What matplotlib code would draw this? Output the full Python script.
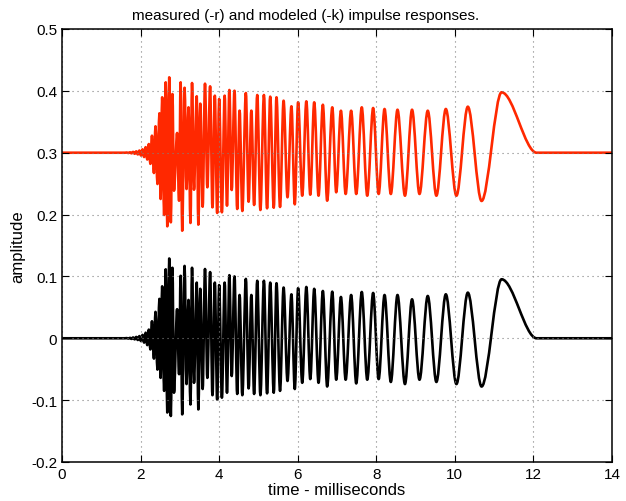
import numpy as np
import matplotlib
matplotlib.use("Agg")
import matplotlib.pyplot as plt
from matplotlib.path import Path
from matplotlib.patches import PathPatch

plt.rcParams['font.family'] = ['Liberation Sans', 'DejaVu Sans']

# times of the turning points (ms)
t_ext = [0.00, 1.60,
         1.65, 1.69, 1.73, 1.77, 1.81, 1.85, 1.89, 1.93, 1.97, 2.01,
         2.05, 2.09, 2.13, 2.17, 2.21, 2.25,
         2.29, 2.34, 2.38, 2.43, 2.48, 2.51, 2.55, 2.60, 2.64, 2.68,
         2.73, 2.77, 2.81, 2.85, 2.93, 2.98, 3.02, 3.06, 3.12, 3.17,
         3.22, 3.27, 3.31, 3.36, 3.43, 3.47, 3.52, 3.58, 3.64, 3.70,
         3.77, 3.83, 3.89, 3.95, 4.00, 4.07, 4.14, 4.20, 4.26, 4.32,
         4.39, 4.46, 4.52, 4.59, 4.68, 4.75, 4.82, 4.89, 4.97, 5.05,
         5.14, 5.22, 5.30, 5.39, 5.46, 5.55, 5.64, 5.74, 5.84, 5.925,
         6.01, 6.115, 6.22, 6.32, 6.42, 6.53, 6.64, 6.75, 6.88, 6.98,
         7.10, 7.22, 7.36, 7.49, 7.63, 7.77, 7.92, 8.06, 8.21, 8.37,
         8.54, 8.73, 8.91, 9.10, 9.31, 9.53, 9.77, 10.04, 10.33, 10.68,
         11.19, 12.08, 14.00]

# measured response (red), deviation from its 0.3 baseline
measured = [0.0, 0.0,
            0.0003, -0.0005, 0.0007, -0.001, 0.0013, -0.0017, 0.0022, -0.0028, 0.0035, -0.0045,
            0.0055, -0.007, 0.009, -0.011, 0.014, -0.018,
            0.0275, -0.0328, 0.0427, -0.0506, 0.0637, -0.0748, 0.0896, -0.1007, 0.1138, -0.119,
            0.1219, -0.1125, 0.0949, -0.0614, 0.0319, -0.0776, 0.1138, -0.1261, 0.105, -0.0587,
            0.0734, -0.1136, 0.1127, -0.0598, 0.0912, -0.1163, 0.0793, -0.0873, 0.1116, -0.0559,
            0.1073, -0.0883, 0.0922, -0.0974, 0.0868, -0.0963, 0.0922, -0.0856, 0.1014, -0.0603,
            0.1002, -0.091, 0.068, -0.0942, 0.0965, -0.0792, 0.068, -0.0845, 0.0933, -0.0926,
            0.0933, -0.0899, 0.0906, -0.0889, 0.0896, -0.0877, 0.0841, -0.0721, 0.075, -0.0834,
            0.0815, -0.0695, 0.0831, -0.0679, 0.0815, -0.0695, 0.0776, -0.0776, 0.0734, -0.064,
            0.0679, -0.0667, 0.0679, -0.0667, 0.0734, -0.0695, 0.0723, -0.0667, 0.0707, -0.0667,
            0.0695, -0.0695, 0.0695, -0.0667, 0.0679, -0.0695, 0.0707, -0.0695, 0.0744, -0.078,
            0.0977, 0.0, 0.0]

# modeled response (black)
modeled = [0.0, 0.0,
           0.0003, -0.0005, 0.0007, -0.001, 0.0013, -0.0017, 0.0022, -0.0028, 0.0035, -0.0045,
           0.0055, -0.007, 0.009, -0.011, 0.014, -0.018,
           0.0275, -0.0328, 0.0427, -0.0506, 0.0637, -0.064, 0.084, -0.085, 0.1115, -0.12,
           0.129, -0.1256, 0.114, -0.088, 0.047, -0.058, 0.101, -0.123, 0.117, -0.074,
           0.062, -0.107, 0.114, -0.072, 0.09, -0.115, 0.08, -0.082, 0.112, -0.064,
           0.107, -0.092, 0.09, -0.099, 0.086, -0.096, 0.09, -0.088, 0.102, -0.061,
           0.1, -0.09, 0.07, -0.092, 0.096, -0.081, 0.07, -0.09, 0.093, -0.092,
           0.093, -0.089, 0.09, -0.088, 0.089, -0.085, 0.082, -0.069, 0.071, -0.082,
           0.081, -0.072, 0.083, -0.066, 0.08, -0.072, 0.0765, -0.078, 0.0754, -0.067,
           0.0668, -0.067, 0.07, -0.073, 0.0749, -0.067, 0.0733, -0.066, 0.07, -0.0706,
           0.07, -0.074, 0.063, -0.067, 0.0684, -0.0706, 0.0711, -0.074, 0.0738, -0.078,
           0.0954, 0.0, 0.0]

red_offset = 0.3
black_offset = 0.0

xticks = [0, 2, 4, 6, 8, 10, 12, 14]
yticks = [-0.2, -0.1, 0, 0.1, 0.2, 0.3, 0.4, 0.5]
ylabels = ['-0.2', '-0.1', '0', '0.1', '0.2', '0.3', '0.4', '0.5']


def smooth_path(t, v, off):
    # cubic segments between turning points, flat at each turning point
    verts = [(t[0], v[0] + off)]
    codes = [Path.MOVETO]
    for i in range(len(t) - 1):
        d = (t[i + 1] - t[i]) / 3.0
        verts += [(t[i] + d, v[i] + off), (t[i + 1] - d, v[i + 1] + off), (t[i + 1], v[i + 1] + off)]
        codes += [Path.CURVE4] * 3
    return Path(verts, codes)


fig = plt.figure(figsize=(6.26, 5.02), dpi=100)
ax = fig.add_axes([62 / 626, 1 - 463 / 502, 550 / 626, 433 / 502])

ax.add_patch(PathPatch(smooth_path(t_ext, measured, red_offset), fill=False,
                       edgecolor='#ff2800', lw=1.9, capstyle='round', joinstyle='round'))
ax.add_patch(PathPatch(smooth_path(t_ext, modeled, black_offset), fill=False,
                       edgecolor='black', lw=1.9, capstyle='round', joinstyle='round'))

ax.set_xlim(0, 14)
ax.set_ylim(-0.2, 0.5)
ax.set_xticks(xticks)
ax.set_xticklabels([str(x) for x in xticks])
ax.set_yticks(yticks)
ax.set_yticklabels(ylabels)
ax.tick_params(direction='in', length=5, width=0.8, top=True, right=True, labelsize=11)
ax.grid(True, linestyle=(0, (1, 3.5)), color='0.5', lw=0.8)
for s in ax.spines.values():
    s.set_linewidth(1.1)

ax.set_xlabel('time - milliseconds', fontsize=12, labelpad=1)
ax.set_ylabel('amplitude', fontsize=12, labelpad=4)
ax.set_title('measured (-r) and modeled (-k) impulse responses.', fontsize=11,
             x=(306 - 62) / 550, pad=7)

fig.savefig('out.png', dpi=100)
